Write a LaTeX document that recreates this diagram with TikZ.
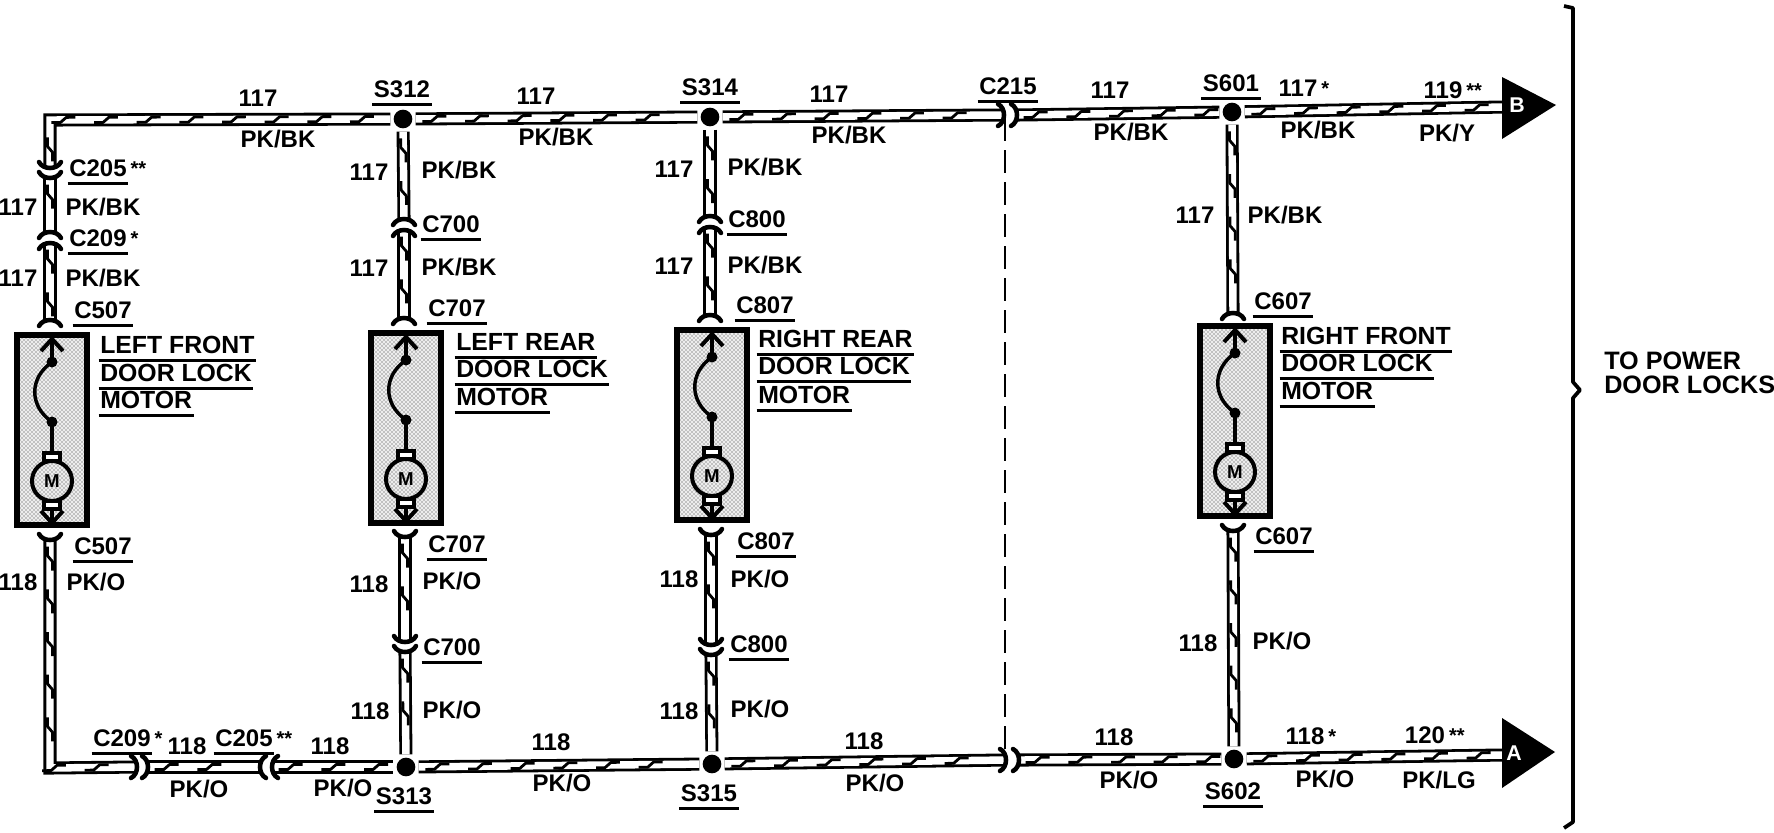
\documentclass[tikz,border=0pt]{standalone}
\usepackage{fontspec}
\setmainfont{Liberation Sans}[BoldFont={Liberation Sans Bold}]
\usetikzlibrary{decorations.markings,patterns}
\newcommand{\rast}[1]{\rlap{\,\raisebox{1pt}{\fontsize{15}{15}\selectfont #1}}}
\tikzset{
  zig/.style={decoration={markings,mark=between positions 14pt and -8pt step 32pt with {
     \draw[line width=2.1pt,line join=round] (-12,2.6)--(-3,2.6)--(3,-2.6)--(12,-2.6);}},postaction={decorate}},
  tube/.style={draw,line width=2.1pt,double=white,double distance=5.6pt,line join=miter},
  wire/.style={tube,zig},
  dotnode/.style={circle,fill=black,inner sep=0pt,minimum size=14pt,outer sep=2.5pt},
  lbl/.style={font=\fontsize{18}{18}\selectfont\bfseries,inner sep=0pt,text height=12.5pt,text depth=0pt},
  ttl/.style={lbl,anchor=west,font=\fontsize{18.6}{18.6}\selectfont\bfseries},
  ul/.style={append after command={([yshift=-5.2pt,xshift=-1pt]\tikzlastnode.south west) edge[line width=1.7pt] ([yshift=-5.2pt,xshift=1pt]\tikzlastnode.south east)}},
  dotfill/.style={preaction={fill=black!7},pattern=crosshatch dots,pattern color=black!80},
  mbox/.style={draw,line width=3.8pt,minimum width=52.5pt,minimum height=142.5pt,inner sep=0pt,dotfill},
  arcline/.style={line width=3.4pt,line cap=round},
  pics/cup/.style={code={\draw[arcline] (-11,-6) .. controls (-7,2) and (7,2) .. (11,-6);}},
  pics/lockmotor/.style={code={
    \draw[line width=3pt] (0,-90)--(0,-68);
    \draw[line width=3pt] (-11,-79)--(0,-91)--(11,-79);
    \fill (0,-68) circle (5.5);
    \fill (0,-8) circle (5.5);
    \draw[line width=2.6pt] (0,-68) .. controls (-23,-52) and (-23,-24) .. (0,-8);
    \draw[line width=2.6pt] (0,-8)--(0,22);
    \draw[line width=2.6pt,fill=white] (-8,23) rectangle (8,31);
    \draw[line width=2.6pt,fill=white] (-8,71) rectangle (8,79);
    \draw[line width=3pt,dotfill] (0,51) circle (20);
    \node[font=\fontsize{14}{14}\selectfont\bfseries,inner sep=0pt] (-m) at (0,51) {M};
    \draw[line width=3pt] (0,79)--(0,92);
    \draw[line width=3pt] (-11,81)--(0,93)--(11,81);
  }}
}
\begin{document}
\begin{tikzpicture}[x=0.75pt,y=-0.75pt]
\useasboundingbox (0,0) rectangle (1774,832);
\fill[white] (0,0) rectangle (1774,832);

% splices
\node[dotnode] (S312d) at (403,119) {};
\node[dotnode] (S314d) at (710,117) {};
\node[dotnode] (S601d) at (1232,112) {};
\node[dotnode] (S313d) at (406,767) {};
\node[dotnode] (S315d) at (712,764) {};
\node[dotnode] (S602d) at (1234,759) {};

% connector ends
\coordinate (cornerT) at (50,120);
\coordinate (cornerB) at (50,768);
\coordinate (a1) at (50,168);
\coordinate (a2) at (50,178);
\coordinate (a3) at (50,232);
\coordinate (a4) at (50,243);
\coordinate (a5) at (50,320);
\coordinate (a6) at (50,540);
\coordinate (h1) at (137,767);
\coordinate (h2) at (148,767);
\coordinate (h3) at (260,767);
\coordinate (h4) at (272,767);

\coordinate (b1) at (404,219);
\coordinate (b2) at (404,230);
\coordinate (b3) at (404,318);
\coordinate (b4) at (405,537);
\coordinate (b5) at (405,642);
\coordinate (b6) at (405,652);

\coordinate (c1) at (710,216);
\coordinate (c2) at (710,227);
\coordinate (c3) at (710,315);
\coordinate (c4) at (711,535);
\coordinate (c5) at (711,645);
\coordinate (c6) at (711,655);

\coordinate (d1) at (1233,313);
\coordinate (d2) at (1233,531);

\coordinate (t1) at (1004,115);
\coordinate (t2) at (1017,115);
\coordinate (u1) at (1006,760);
\coordinate (u2) at (1019,760);
\coordinate (Bend) at (1504,107);
\coordinate (Aend) at (1504,755);

% dashed shield line
\coordinate (dashT) at (1005,118);
\coordinate (dashB) at (1005,758);
\draw[line width=2pt,dash pattern=on 17pt off 7pt] (dashT)--(dashB);

% wires
\draw[wire] (a1)--(cornerT)--(S312d);
\draw[wire] (a2)--(a3);
\draw[wire] (a4)--(a5);
\draw[wire] (a6)--(cornerB)--(h1);
\draw[wire] (h2)--(h3);
\draw[wire] (h4)--(S313d);
\draw[wire] (S312d)--(b1);
\draw[wire] (b2)--(b3);
\draw[wire] (b4)--(b5);
\draw[wire] (b6)--(S313d);
\draw[wire] (S314d)--(c1);
\draw[wire] (c2)--(c3);
\draw[wire] (c4)--(c5);
\draw[wire] (c6)--(S315d);
\draw[wire] (S601d)--(d1);
\draw[wire] (d2)--(S602d);
\draw[wire] (S312d)--(S314d);
\draw[wire] (S314d)--(t1);
\draw[wire] (t2)--(S601d);
\draw[wire] (S601d)--(Bend);
\draw[wire] (S313d)--(S315d);
\draw[wire] (S315d)--(u1);
\draw[wire] (u2)--(S602d);
\draw[wire] (S602d)--(Aend);

% connector arcs
\pic at (a1) {cup};
\pic at (a2) {cup};
\pic[rotate=180] at (a3) {cup};
\pic[rotate=180] at (a4) {cup};
\pic[rotate=180] at (a5) {cup};
\pic at (a6) {cup};
\pic[rotate=90] at (h1) {cup};
\pic[rotate=90] at (h2) {cup};
\pic[rotate=-90] at (h3) {cup};
\pic[rotate=-90] at (h4) {cup};
\pic[rotate=180] at (b1) {cup};
\pic[rotate=180] at (b2) {cup};
\pic[rotate=180] at (b3) {cup};
\pic at (b4) {cup};
\pic at (b5) {cup};
\pic at (b6) {cup};
\pic[rotate=180] at (c1) {cup};
\pic[rotate=180] at (c2) {cup};
\pic[rotate=180] at (c3) {cup};
\pic at (c4) {cup};
\pic at (c5) {cup};
\pic at (c6) {cup};
\pic[rotate=180] at (d1) {cup};
\pic at (d2) {cup};
\pic[rotate=90] at (t1) {cup};
\pic[rotate=90] at (t2) {cup};
\pic[rotate=90] at (u1) {cup};
\pic[rotate=90] at (u2) {cup};

% motors
\node[mbox] (box1) at (52,430) {};
\pic (mot1) at (52,430) {lockmotor};
\node[mbox] (box2) at (406,428) {};
\pic (mot2) at (406,428) {lockmotor};
\node[mbox] (box3) at (712,425) {};
\pic (mot3) at (712,425) {lockmotor};
\node[mbox] (box4) at (1235,421) {};
\pic (mot4) at (1235,421) {lockmotor};

% terminals
\fill (1502,77)--(1556,105)--(1502,139)--cycle;
\fill (1502,718)--(1555,752)--(1502,788)--cycle;
\node[font=\fontsize{16}{16}\selectfont\bfseries,text=white,inner sep=0pt] (termB) at (1517,105) {B};
\node[font=\fontsize{16}{16}\selectfont\bfseries,text=white,inner sep=0pt] (termA) at (1514,753) {A};

% bracket
\draw[line width=2.8pt,line join=round] (1564,6)--(1573,8)--(1573,382)--(1580,390)--(1573,398)--(1573,822)--(1564,828);

% top row labels
\node[lbl] (l1) at (258,98) {117};
\node[lbl] (l2) at (278,139) {PK/BK};
\node[lbl,ul] (l3) at (402,89) {S312};
\node[lbl] (l4) at (536,96) {117};
\node[lbl] (l5) at (556,137) {PK/BK};
\node[lbl,ul] (l6) at (710,87) {S314};
\node[lbl] (l7) at (829,94) {117};
\node[lbl] (l8) at (849,135) {PK/BK};
\node[lbl,ul] (l9) at (1008,86) {C215};
\node[lbl] (l10) at (1110,90) {117};
\node[lbl] (l11) at (1131,132) {PK/BK};
\node[lbl,ul] (l12) at (1231,83) {S601};
\node[lbl] (l13) at (1298,88) {117\rast{*}};
\node[lbl] (l14) at (1318,130) {PK/BK};
\node[lbl] (l15) at (1443,90) {119\rast{**}};
\node[lbl] (l16) at (1447,133) {PK/Y};

% left column
\node[lbl,ul] (l17) at (98,168) {C205\rast{**}};
\node[lbl] (l18) at (18,207) {117};
\node[lbl] (l19) at (103,207) {PK/BK};
\node[lbl,ul] (l20) at (98,238) {C209\rast{*}};
\node[lbl] (l21) at (18,278) {117};
\node[lbl] (l22) at (103,278) {PK/BK};
\node[lbl,ul] (l23) at (103,310) {C507};
\node[ttl,ul] (l24) at (100,345) {LEFT FRONT};
\node[ttl,ul] (l25) at (100,373) {DOOR LOCK};
\node[ttl,ul] (l26) at (100,400) {MOTOR};
\node[lbl,ul] (l27) at (103,546) {C507};
\node[lbl] (l28) at (18,582) {118};
\node[lbl] (l29) at (96,582) {PK/O};

% column 2
\node[lbl] (l30) at (369,172) {117};
\node[lbl] (l31) at (459,170) {PK/BK};
\node[lbl,ul] (l32) at (451,224) {C700};
\node[lbl] (l33) at (369,268) {117};
\node[lbl] (l34) at (459,267) {PK/BK};
\node[lbl,ul] (l35) at (457,308) {C707};
\node[ttl,ul] (l36) at (456,342) {LEFT REAR};
\node[ttl,ul] (l37) at (456,369) {DOOR LOCK};
\node[ttl,ul] (l38) at (456,397) {MOTOR};
\node[lbl,ul] (l39) at (457,544) {C707};
\node[lbl] (l40) at (369,584) {118};
\node[lbl] (l41) at (452,581) {PK/O};
\node[lbl,ul] (l42) at (452,647) {C700};
\node[lbl] (l43) at (370,711) {118};
\node[lbl] (l44) at (452,710) {PK/O};
\node[lbl,ul] (l45) at (404,796) {S313};

% column 3
\node[lbl] (l46) at (674,169) {117};
\node[lbl] (l47) at (765,167) {PK/BK};
\node[lbl,ul] (l48) at (757,219) {C800};
\node[lbl] (l49) at (674,266) {117};
\node[lbl] (l50) at (765,265) {PK/BK};
\node[lbl,ul] (l51) at (765,305) {C807};
\node[ttl,ul] (l52) at (758,339) {RIGHT REAR};
\node[ttl,ul] (l53) at (758,366) {DOOR LOCK};
\node[ttl,ul] (l54) at (758,395) {MOTOR};
\node[lbl,ul] (l55) at (766,541) {C807};
\node[lbl] (l56) at (679,579) {118};
\node[lbl] (l57) at (760,579) {PK/O};
\node[lbl,ul] (l58) at (759,644) {C800};
\node[lbl] (l59) at (679,711) {118};
\node[lbl] (l60) at (760,709) {PK/O};
\node[lbl,ul] (l61) at (709,793) {S315};

% column 4
\node[lbl] (l62) at (1195,215) {117};
\node[lbl] (l63) at (1285,215) {PK/BK};
\node[lbl,ul] (l64) at (1283,301) {C607};
\node[ttl,ul] (l65) at (1281,336) {RIGHT FRONT};
\node[ttl,ul] (l66) at (1281,363) {DOOR LOCK};
\node[ttl,ul] (l67) at (1281,391) {MOTOR};
\node[lbl,ul] (l68) at (1284,536) {C607};
\node[lbl] (l69) at (1198,643) {118};
\node[lbl] (l70) at (1282,641) {PK/O};
\node[lbl,ul] (l71) at (1233,791) {S602};

% bottom row
\node[lbl,ul] (l72) at (122,738) {C209\rast{*}};
\node[lbl] (l73) at (187,746) {118};
\node[lbl] (l74) at (199,789) {PK/O};
\node[lbl,ul] (l75) at (244,738) {C205\rast{**}};
\node[lbl] (l76) at (330,746) {118};
\node[lbl] (l77) at (343,788) {PK/O};
\node[lbl] (l78) at (551,742) {118};
\node[lbl] (l79) at (562,783) {PK/O};
\node[lbl] (l80) at (864,741) {118};
\node[lbl] (l81) at (875,783) {PK/O};
\node[lbl] (l82) at (1114,737) {118};
\node[lbl] (l83) at (1129,780) {PK/O};
\node[lbl] (l84) at (1305,736) {118\rast{*}};
\node[lbl] (l85) at (1325,779) {PK/O};
\node[lbl] (l86) at (1425,735) {120\rast{**}};
\node[lbl] (l87) at (1439,780) {PK/LG};

\node[lbl,anchor=west,font=\fontsize{18.9}{18.9}\selectfont\bfseries] (l88) at (1604,361) {TO POWER};
\node[lbl,anchor=west,font=\fontsize{18.9}{18.9}\selectfont\bfseries] (l89) at (1604,385) {DOOR LOCKS};
\end{tikzpicture}
\end{document}
